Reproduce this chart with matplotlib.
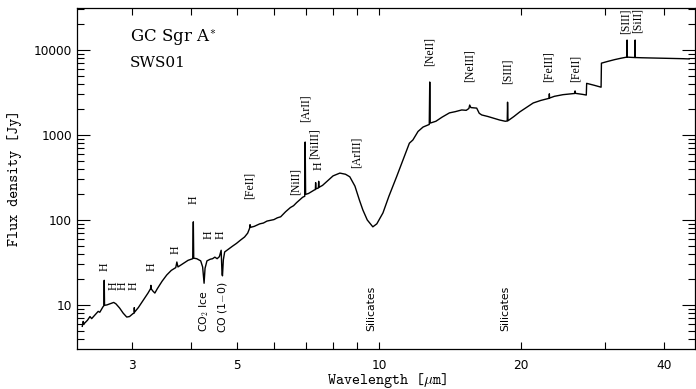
import matplotlib
matplotlib.use("Agg")
import matplotlib.pyplot as plt
from matplotlib.ticker import FixedLocator, FuncFormatter, LogLocator, NullFormatter

plt.rcParams['mathtext.fontset'] = 'cm'

# ---- spectrum (wavelength in micron, flux density in Jy) ----
wavelength = [2.36, 2.37, 2.38, 2.42, 2.45, 2.47, 2.52, 2.55, 2.57, 2.61, 2.622, 2.626, 2.630,
              2.66, 2.70, 2.75, 2.78, 2.83, 2.88, 2.93, 2.97, 3.02, 3.038, 3.040, 3.043, 3.10,
              3.18, 3.25, 3.29, 3.296, 3.30, 3.33, 3.36, 3.40, 3.48, 3.56, 3.64, 3.72, 3.74,
              3.76, 3.85, 3.95, 4.04, 4.052, 4.06, 4.12, 4.20, 4.24, 4.27, 4.29, 4.33, 4.40,
              4.45, 4.50, 4.55, 4.60, 4.64, 4.66, 4.67, 4.69, 4.72, 4.80, 4.90, 5.00, 5.10,
              5.20, 5.28, 5.33, 5.34, 5.36, 5.45, 5.60, 5.70, 5.80, 6.00, 6.10, 6.20, 6.35,
              6.50, 6.60, 6.70, 6.90, 6.97, 6.985, 7.00, 7.10, 7.20, 7.30, 7.34, 7.35, 7.36,
              7.45, 7.46, 7.47, 7.60, 7.80, 8.00, 8.27, 8.50, 8.68, 8.90, 9.10, 9.25, 9.45,
              9.71, 9.90, 10.2, 10.5, 10.9, 11.2, 11.6, 11.8, 12.1, 12.4, 12.78, 12.81, 12.84,
              13.2, 13.6, 14.1, 14.5, 14.97, 15.3, 15.5, 15.56, 15.65, 16.1, 16.3, 16.5, 17.0,
              17.5, 18.0, 18.5, 18.68, 18.71, 18.75, 19.3, 19.86, 20.5, 21.2, 22.0, 22.9,
              22.93, 22.96, 23.5, 24.5, 25.5, 25.95, 25.99, 26.03, 27.0, 27.45, 27.5, 28.5,
              29.5, 29.55, 30.5, 31.5, 32.5, 33.3, 33.45, 33.48, 33.51, 34.0, 34.79, 34.82,
              34.85, 36.0, 38.0, 40.0, 42.0, 44.0, 45.3]
flux = [5.6, 6.4, 6.0, 6.6, 7.3, 6.9, 7.8, 8.4, 8.2, 9.5, 9.8, 19.5, 9.9,
        10.0, 10.3, 10.7, 10.3, 9.2, 8.0, 7.2, 7.3, 7.9, 8.0, 9.3, 8.2, 9.3,
        11.5, 13.8, 15.5, 17.0, 15.5, 14.5, 13.8, 15.5, 19.0, 22.5, 25.5, 27.5, 32.0,
        28.0, 30.5, 33.5, 35.0, 95.0, 35.5, 35.0, 33.0, 28.0, 18.0, 27.0, 33.0, 34.5,
        35.0, 36.5, 35.0, 37.0, 44.0, 23.0, 22.0, 34.0, 42.0, 45.0, 49.0, 53.0, 58.0,
        63.0, 70.0, 80.0, 88.0, 82.0, 84.0, 90.0, 92.0, 97.0, 101.0, 106.0, 109.0, 125.0,
        140.0, 147.0, 160.0, 185.0, 190.0, 826.0, 200.0, 205.0, 215.0, 225.0, 228.0, 275.0, 232.0,
        238.0, 285.0, 242.0, 255.0, 290.0, 330.0, 356.0, 345.0, 322.0, 250.0, 170.0, 131.0, 100.0,
        83.0, 90.0, 121.0, 190.0, 322.0, 480.0, 800.0, 873.0, 1100.0, 1240.0, 1330.0, 4200.0, 1380.0,
        1450.0, 1620.0, 1820.0, 1880.0, 1970.0, 1950.0, 2050.0, 2250.0, 2100.0, 2070.0, 1800.0, 1720.0, 1650.0,
        1570.0, 1500.0, 1450.0, 1460.0, 2430.0, 1470.0, 1650.0, 1870.0, 2100.0, 2380.0, 2550.0, 2700.0,
        3050.0, 2720.0, 2850.0, 2980.0, 3050.0, 3080.0, 3300.0, 3090.0, 3000.0, 2950.0, 4050.0, 3850.0,
        3650.0, 7000.0, 7350.0, 7700.0, 8000.0, 8200.0, 8250.0, 13100.0, 8250.0, 8200.0, 8150.0, 13100.0,
        8150.0, 8100.0, 8050.0, 8000.0, 7950.0, 7900.0, 7850.0]

# ---- line identifications (label, wavelength, flux position of label centre) ----
line_labels = ["H", "H", "H", "H", "H", "H", "H", "H", "H",
               "[FeII]", "[NiII]", "[ArII]", "H", "[NiIII]", "[ArIII]",
               "[NeII]", "[NeIII]", "[SIII]", "[FeIII]", "[FeII]", "[SIII]", "[SiII]"]
line_wl = [2.63, 2.75, 2.87, 3.03, 3.30, 3.72, 4.05, 4.37, 4.63,
           5.34, 6.67, 7.01, 7.45, 7.32, 8.98,
           12.8, 15.57, 18.74, 22.9, 26.0, 33.2, 35.2]
line_fy = [28.0, 16.7, 16.7, 16.7, 28.0, 44.3, 172.0, 66.6, 66.6,
           258.0, 280.0, 2070.0, 440.0, 800.0, 631.0,
           9500.0, 6470.0, 5640.0, 6300.0, 6130.0, 22000.0, 22000.0]

feature_labels = ["CO$_2$ Ice", "CO (1$-$0)", "Silicates", "Silicates"]
feature_wl = [4.27, 4.67, 9.62, 18.5]
feature_fy = [8.5, 9.5, 9.2, 9.2]

x_major = [3, 5, 10, 20, 40]
x_minor = [4, 6, 7, 8, 9, 30]
y_major = [10, 100, 1000, 10000]

fig = plt.figure(figsize=(6.96, 3.89), dpi=100)
ax = fig.add_axes([77/696, 40/389, 618/696, 341/389])

ax.plot(wavelength, flux, color='black', lw=1.0)
ax.set_xscale('log')
ax.set_yscale('log')
ax.set_xlim(2.30, 46.6)
ax.set_ylim(3.03, 31200)

ax.xaxis.set_major_locator(FixedLocator(x_major))
ax.xaxis.set_minor_locator(FixedLocator(x_minor))
ax.xaxis.set_major_formatter(FuncFormatter(lambda v, p: "%d" % round(v)))
ax.xaxis.set_minor_formatter(NullFormatter())
ax.yaxis.set_major_locator(FixedLocator(y_major))
ax.yaxis.set_minor_locator(LogLocator(base=10, subs=range(2, 10), numticks=20))
ax.yaxis.set_major_formatter(FuncFormatter(lambda v, p: "%d" % round(v)))
ax.yaxis.set_minor_formatter(NullFormatter())

for s in ax.spines.values():
    s.set_linewidth(0.9)

ax.tick_params(axis='x', which='both', direction='in', top=True, bottom=True,
               length=4.7, width=0.8, pad=7, labelsize=8.7)
ax.tick_params(axis='y', which='major', direction='in', left=True, right=True,
               length=9.4, width=0.8, pad=3.5, labelsize=8.7)
ax.tick_params(axis='y', which='minor', direction='in', left=True, right=True,
               length=4.7, width=0.8)

for t, x, y in zip(line_labels, line_wl, line_fy):
    ax.text(x, y, t, rotation=90, ha='center', va='center', rotation_mode='anchor',
            fontsize=8.5, family='Liberation Serif')

for t, x, y in zip(feature_labels, feature_wl, feature_fy):
    ax.text(x, y, t, rotation=90, ha='center', va='center', rotation_mode='anchor',
            fontsize=7.8, family='DejaVu Sans')

ax.text(0.0858, 0.912, "GC Sgr A$^{*}$", transform=ax.transAxes, ha='left', va='center',
        fontsize=12, family='DejaVu Serif')
ax.text(0.0858, 0.839, "SWS01", transform=ax.transAxes, ha='left', va='center',
        fontsize=11, family='DejaVu Serif')

fig.text(387/696, 1 - 380/389, "Wavelength [$\\mu$m]", ha='center', va='center',
         fontsize=11, family='cmtt10')
fig.text(15/696, 1 - 178/389, "Flux density [Jy]", ha='center', va='center', rotation=90,
         fontsize=11, family='cmtt10')

fig.savefig("out.png", dpi=100)
